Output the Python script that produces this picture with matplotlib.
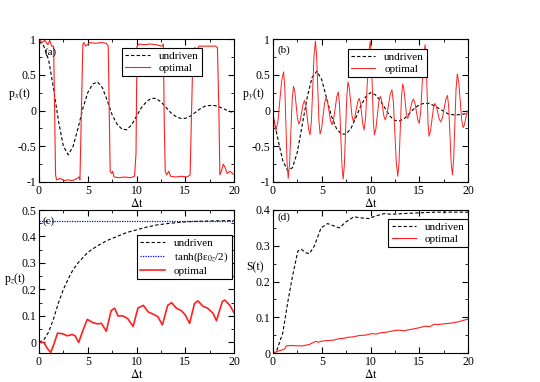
import matplotlib
matplotlib.use("Agg")
import matplotlib.pyplot as plt
from matplotlib.ticker import MultipleLocator

plt.rcParams['font.family'] = ['Liberation Serif', 'DejaVu Serif']
plt.rcParams['mathtext.fontset'] = 'stix'
plt.rcParams['font.size'] = 8

# time grid for the smooth undriven curves (a), (b)
t_half = [0, 0.5, 1, 1.5, 2, 2.5, 3, 3.5, 4, 4.5, 5, 5.5, 6, 6.5, 7, 7.5, 8, 8.5, 9, 9.5,
          10, 10.5, 11, 11.5, 12, 12.5, 13, 13.5, 14, 14.5, 15, 15.5, 16, 16.5, 17, 17.5,
          18, 18.5, 19, 19.5, 20]

# (a) p_x
px_undriven = [0.97, 0.9, 0.7, 0.3, -0.15, -0.5, -0.62, -0.5, -0.25, 0.03, 0.25, 0.37,
               0.4, 0.32, 0.14, -0.06, -0.19, -0.26, -0.27, -0.2, -0.08, 0.04, 0.12, 0.17,
               0.17, 0.12, 0.05, -0.03, -0.08, -0.11, -0.11, -0.08, -0.03, 0.02, 0.06,
               0.07, 0.07, 0.05, 0.02, -0.01, -0.03]
t_a_opt = [0, 0.3, 0.6, 0.9, 1.1, 1.3, 1.5, 1.7, 1.8, 2.2, 2.6, 3.0, 3.4, 3.8, 4.1, 4.2,
           4.35, 4.5, 4.6, 4.8, 5.2, 5.8, 6.4, 6.9, 7.1, 7.3, 7.45, 7.55, 7.7, 8.2, 8.8,
           9.4, 9.8, 9.95, 10.05, 10.3, 10.8, 11.4, 12.0, 12.6, 12.75, 12.85, 12.95, 13.1,
           13.3, 13.5, 14.0, 14.6, 15.2, 15.5, 15.65, 15.8, 16.0, 16.2, 16.4, 17.0, 17.6,
           18.1, 18.3, 18.45, 18.55, 18.7, 18.9, 19.1, 19.3, 19.6, 20.0]
px_optimal = [1.0, 0.95, 0.98, 0.92, 0.98, 0.9, 0.9, -0.9, -0.97, -0.95, -0.98, -0.97,
              -0.98, -0.96, -0.93, -0.97, 0.0, 0.93, 0.95, 0.9, 0.95, 0.94, 0.95, 0.94,
              0.9, -0.85, -0.88, -0.85, -0.93, -0.94, -0.93, -0.94, -0.92, -0.6, 0.9,
              0.93, 0.92, 0.93, 0.92, 0.9, 0.93, -0.2, -0.85, -0.9, -0.85, -0.92, -0.93,
              -0.92, -0.93, -0.9, 0.0, 0.85, 0.88, 0.83, 0.9, 0.9, 0.9, 0.9, 0.88, 0.0,
              -0.9, -0.85, -0.75, -0.8, -0.88, -0.85, -0.9]

# (b) p_y
py_undriven = [-0.06, -0.4, -0.7, -0.84, -0.8, -0.58, -0.2, 0.18, 0.46, 0.55, 0.43, 0.17,
               -0.08, -0.25, -0.33, -0.33, -0.25, -0.1, 0.06, 0.19, 0.25, 0.22, 0.14, 0.03,
               -0.08, -0.14, -0.145, -0.11, -0.04, 0.03, 0.08, 0.1, 0.1, 0.07, 0.03, -0.01,
               -0.05, -0.06, -0.06, -0.05, -0.04]
t_b_opt = [0, 0.3, 0.5, 0.695, 0.89, 1.09, 1.21, 1.325, 1.44, 1.56, 1.695, 1.83, 1.965,
           2.1, 2.24, 2.375, 2.51, 2.65, 2.795, 2.94, 3.085, 3.23, 3.37, 3.515, 3.66, 3.8,
           3.94, 4.075, 4.21, 4.35, 4.47, 4.59, 4.71, 4.83, 4.98, 5.135, 5.29, 5.44, 5.59,
           5.745, 5.9, 6.05, 6.21, 6.375, 6.54, 6.7, 6.825, 6.95, 7.075, 7.2, 7.32, 7.445,
           7.57, 7.69, 7.825, 7.96, 8.095, 8.23, 8.38, 8.535, 8.69, 8.84, 8.97, 9.095,
           9.22, 9.35, 9.505, 9.66, 9.815, 9.97, 10.08, 10.185, 10.29, 10.4, 10.55, 10.7,
           10.85, 11.0, 11.125, 11.25, 11.375, 11.5, 11.675, 11.85, 12.025, 12.2, 12.35,
           12.5, 12.65, 12.8, 12.925, 13.05, 13.175, 13.3, 13.425, 13.55, 13.675, 13.8,
           13.95, 14.1, 14.25, 14.4, 14.55, 14.7, 14.85, 15.0, 15.15, 15.3, 15.45, 15.6,
           15.7, 15.8, 15.9, 16.0, 16.15, 16.3, 16.45, 16.6, 16.75, 16.9, 17.05, 17.2,
           17.375, 17.55, 17.725, 17.9, 18.025, 18.15, 18.275, 18.4, 18.525, 18.65,
           18.775, 18.9, 19.05, 19.2, 19.35, 19.5, 19.625, 19.75, 19.875, 20.0]
py_optimal = [-0.05, -0.28, -0.157, 0.13, 0.417, 0.54, 0.316, -0.205, -0.726, -0.95,
              -0.756, -0.305, 0.146, 0.34, 0.26, 0.075, -0.11, -0.19, -0.14, -0.025, 0.09,
              0.14, 0.068, -0.1, -0.268, -0.34, -0.143, 0.315, 0.773, 0.97, 0.775, 0.32,
              -0.135, -0.33, -0.253, -0.075, 0.103, 0.18, 0.123, -0.01, -0.143, -0.2,
              -0.131, 0.03, 0.191, 0.26, 0.077, -0.35, -0.777, -0.96, -0.756, -0.28, 0.196,
              0.40, 0.317, 0.125, -0.067, -0.15, -0.102, 0.01, 0.122, 0.17, 0.104, -0.05,
              -0.204, -0.27, -0.084, 0.35, 0.784, 0.97, 0.773, 0.315, -0.143, -0.34,
              -0.259, -0.07, 0.119, 0.2, 0.15, 0.035, -0.08, -0.13, -0.067, 0.08, 0.227,
              0.29, 0.11, -0.315, -0.74, -0.92, -0.73, -0.275, 0.18, 0.37, 0.298, 0.13,
              -0.038, -0.11, -0.07, 0.025, 0.12, 0.16, 0.11, -0.01, -0.13, -0.18, -0.015,
              0.37, 0.755, 0.92, 0.73, 0.28, -0.17, -0.36, -0.29, -0.13, 0.03, 0.10, 0.06,
              -0.03, -0.12, -0.16, -0.105, 0.025, 0.155, 0.21, 0.043, -0.345, -0.733, -0.9,
              -0.69, -0.195, 0.3, 0.51, 0.4, 0.135, -0.13, -0.24, -0.204, -0.12, -0.036,
              0.0]

# (c) p_z
t_c_und = [0, 0.5, 1, 1.5, 2, 2.5, 3, 3.5, 4, 5, 6, 7, 8, 9, 10, 11, 12, 13, 14, 15, 16,
           17, 18, 20]
pz_undriven = [0, 0.01, 0.04, 0.09, 0.15, 0.2, 0.24, 0.275, 0.3, 0.34, 0.365, 0.385, 0.4,
               0.415, 0.425, 0.435, 0.443, 0.448, 0.452, 0.455, 0.457, 0.458, 0.459, 0.46]
tanh_level = [0.46, 0.46]
tanh_t = [0, 20]
t_c_opt = [0, 0.5, 0.8, 1.2, 1.5, 1.9, 2.4, 2.9, 3.4, 3.7, 4.07, 4.5, 4.95, 5.5, 6.0, 6.4,
           6.9, 7.4, 7.76, 8.1, 8.6, 9.1, 9.65, 10.15, 10.7, 11.2, 11.7, 12.2, 12.65,
           13.2, 13.6, 14.1, 14.6, 15.0, 15.45, 15.95, 16.3, 16.8, 17.3, 17.85, 18.2,
           18.8, 19.05, 19.55, 20.0]
pz_optimal = [0, 0.0, -0.02, -0.038, -0.01, 0.035, 0.033, 0.025, 0.03, 0.025, 0.0, 0.045,
              0.087, 0.075, 0.07, 0.072, 0.042, 0.12, 0.129, 0.10, 0.10, 0.09, 0.06, 0.13,
              0.14, 0.115, 0.107, 0.097, 0.066, 0.14, 0.15, 0.129, 0.12, 0.104, 0.072,
              0.147, 0.157, 0.137, 0.129, 0.11, 0.082, 0.154, 0.16, 0.141, 0.112]

# (d) entropy S
t_d_und = [0, 0.3, 1.0, 1.5, 2.0, 2.55, 2.9, 3.4, 3.74, 4.25, 4.93, 5.6, 6.3, 6.8, 7.5,
           8.3, 9.0, 9.86, 10.5, 11.4, 12.2, 13.3, 15.0, 16.7, 20.0]
S_undriven = [0, 0.0, 0.056, 0.14, 0.215, 0.285, 0.29, 0.28, 0.278, 0.30, 0.35, 0.362,
              0.355, 0.35, 0.367, 0.381, 0.378, 0.376, 0.383, 0.39, 0.388, 0.39, 0.392,
              0.394, 0.394]
t_d_opt = [0, 0.5, 1.2, 1.36, 1.9, 2.5, 3.06, 3.74, 4.4, 4.6, 5.0, 5.6, 6.2, 6.8, 7.3,
           7.65, 8.2, 8.85, 9.5, 10.1, 10.6, 11.1, 11.6, 12.3, 12.9, 13.4, 14.3, 14.9,
           15.6, 16.1, 16.5, 17.0, 17.7, 18.4, 19.1, 20.0]
S_optimal = [0, 0.005, 0.011, 0.02, 0.021, 0.02, 0.02, 0.024, 0.033, 0.03, 0.033, 0.035,
             0.036, 0.04, 0.041, 0.044, 0.045, 0.049, 0.05, 0.054, 0.053, 0.057, 0.058,
             0.062, 0.064, 0.062, 0.067, 0.07, 0.075, 0.074, 0.08, 0.08, 0.082, 0.084,
             0.088, 0.095]

fig = plt.figure(figsize=(5.4, 3.82), dpi=100)
w, h = 195 / 540, 143 / 382
ax_a = fig.add_axes([39 / 540, 1 - 182 / 382, w, h])
ax_b = fig.add_axes([273 / 540, 1 - 182 / 382, w, h])
ax_c = fig.add_axes([39 / 540, 1 - 353 / 382, w, h])
ax_d = fig.add_axes([273 / 540, 1 - 353 / 382, w, h])

dash = (0, (3, 2))
red = '#ff2020'

ax_a.plot(t_half, px_undriven, color='black', lw=0.8, ls=dash, label='undriven')
ax_a.plot(t_a_opt, px_optimal, color=red, lw=0.8, label='optimal')
ax_b.plot(t_half, py_undriven, color='black', lw=0.8, ls=dash, label='undriven')
ax_b.plot(t_b_opt, py_optimal, color=red, lw=0.7, label='optimal')
ax_c.plot(t_c_und, pz_undriven, color='black', lw=0.8, ls=dash, label='undriven')
ax_c.plot(tanh_t, tanh_level, color='blue', lw=0.9, ls=(0, (1, 1)),
          label='tanh(βε$_{0z}$/2)')
ax_c.plot(t_c_opt, pz_optimal, color=red, lw=1.2, label='optimal')
ax_d.plot(t_d_und, S_undriven, color='black', lw=0.8, ls=dash, label='undriven')
ax_d.plot(t_d_opt, S_optimal, color=red, lw=0.8, label='optimal')

for ax in (ax_a, ax_b):
    ax.set_ylim(-1, 1)
    ax.set_yticks([-1, -0.5, 0, 0.5, 1])
    ax.set_yticklabels(['-1', '-0.5', '0', '0.5', '1'])
    ax.yaxis.set_minor_locator(MultipleLocator(0.25))
ax_c.set_ylim(-0.04, 0.5)
ax_c.set_yticks([0, 0.1, 0.2, 0.3, 0.4, 0.5])
ax_c.set_yticklabels(['0', '0.1', '0.2', '0.3', '0.4', '0.5'])
ax_c.yaxis.set_minor_locator(MultipleLocator(0.05))
ax_d.set_ylim(0, 0.4)
ax_d.set_yticks([0, 0.1, 0.2, 0.3, 0.4])
ax_d.set_yticklabels(['0', '0.1', '0.2', '0.3', '0.4'])
ax_d.yaxis.set_minor_locator(MultipleLocator(0.05))

ylabels = [r'p$_x$(t)', r'p$_y$(t)', r'p$_z$(t)', 'S(t)']
ylab_pos = [(-0.1, 0.56), (-0.1, 0.555), (-0.125, 0.46), (-0.09, 0.555)]
tags = ['(a)', '(b)', '(c)', '(d)']
tag_pos = [(0.03, 0.91), (0.025, 0.92), (0.02, 0.92), (0.025, 0.95)]
leg_pos = [(0.426, 0.94), (0.383, 0.93), (0.503, 0.825), (0.592, 0.94)]

for ax, yl, yp, tg, tp, lp in zip((ax_a, ax_b, ax_c, ax_d), ylabels, ylab_pos, tags,
                                  tag_pos, leg_pos):
    ax.set_xlim(0, 20)
    ax.xaxis.set_major_locator(MultipleLocator(5))
    ax.xaxis.set_minor_locator(MultipleLocator(2.5))
    ax.tick_params(which='both', direction='in', top=True, right=True, labelsize=8.5, pad=2)
    ax.tick_params(which='major', length=4, width=0.8)
    ax.tick_params(which='minor', length=2, width=0.6)
    for s in ax.spines.values():
        s.set_linewidth(0.8)
    ax.set_xlabel(r'$\Delta$t', fontsize=8.5, labelpad=0)
    ax.set_ylabel(yl, rotation=0, fontsize=8.5)
    ax.yaxis.set_label_coords(*yp)
    ax.text(tp[0], tp[1], tg, transform=ax.transAxes, ha='left', va='center', fontsize=8)
    leg = ax.legend(loc='upper left', bbox_to_anchor=lp, fontsize=8, fancybox=False,
                    edgecolor='black', framealpha=1, borderpad=0.3, handlelength=2.2,
                    labelspacing=0.2, borderaxespad=0)
    leg.get_frame().set_linewidth(0.8)

fig.savefig('out.png', dpi=100)
